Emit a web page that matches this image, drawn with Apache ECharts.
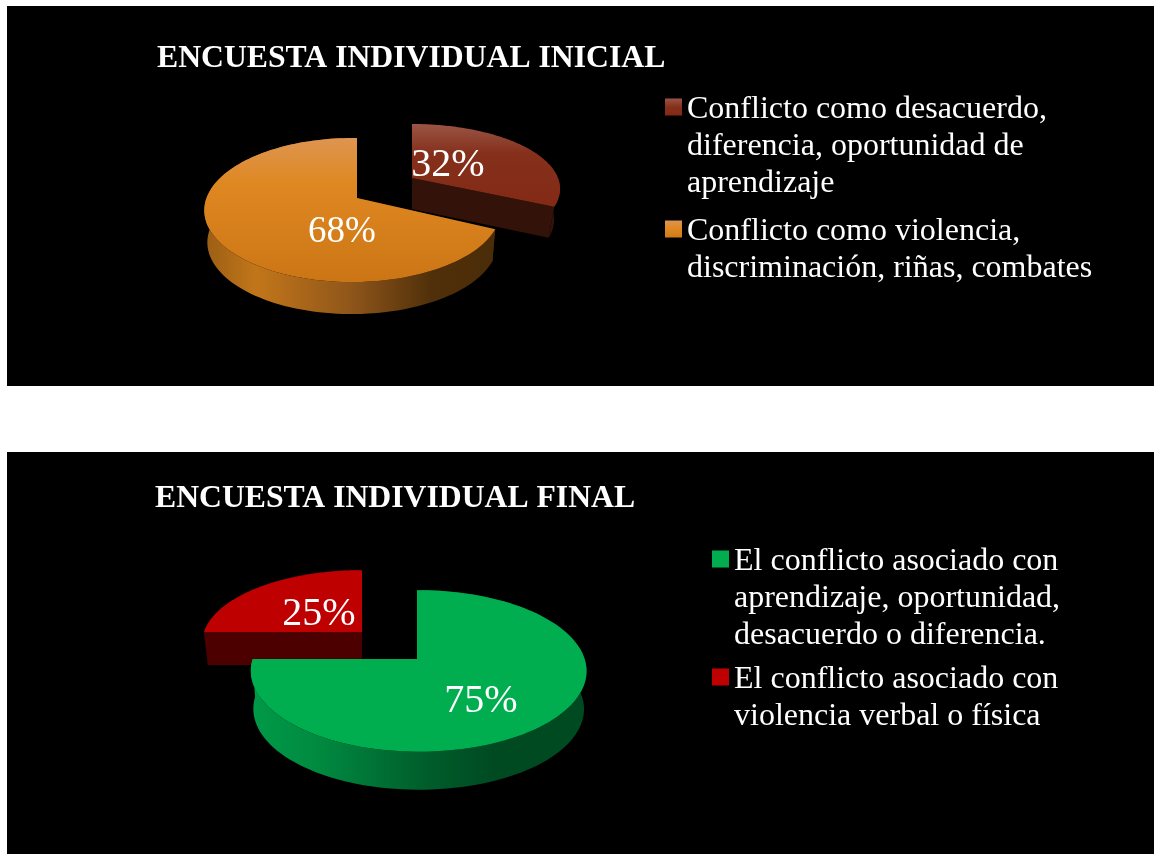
<!DOCTYPE html>
<html><head><meta charset="utf-8">
<style>html,body{margin:0;padding:0;background:#fff}#c{width:1154px;height:854px}</style>
<script src="https://cdn.jsdelivr.net/npm/echarts@6/dist/echarts.min.js"></script>
</head><body><div id="c"></div>
<script>
// Data
const titleInitial = 'ENCUESTA INDIVIDUAL INICIAL';
const titleFinal = 'ENCUESTA INDIVIDUAL FINAL';
const initialNames = ['Conflicto como desacuerdo,\ndiferencia, oportunidad de\naprendizaje', 'Conflicto como violencia,\ndiscriminación, riñas, combates'];
const initialValues = [32, 68];
const finalNames = ['El conflicto asociado con\naprendizaje, oportunidad,\ndesacuerdo o diferencia.', 'El conflicto asociado con\nviolencia verbal o física'];
const finalValues = [75, 25];

// Layout and styles
const grad = (x2, y2, stops) => ({type:'linear', x:0, y:0, x2, y2, colorStops: stops.map(s => ({offset:s[0], color:s[1]}))});
const serif = '"Liberation Serif","Times New Roman",serif';
const slices = [
  { name:initialNames[0], values:initialValues, idx:0, apex:[412,178], A:146, B:63, k:.1667, m:0, depth:31, taper:.96,
    face:grad(0,1,[[0,'#9a5545'],[.35,'#85301c'],[1,'#832a15']]), wall:'#33120a', radial:'#33120a', label:[448,165], size:40 },
  { name:initialNames[1], values:initialValues, idx:1, apex:[357,198], A:146, B:70, k:.1667, m:-.03, depth:32, taper:.98,
    face:grad(0,1,[[0,'#dd9550'],[.32,'#df8822'],[1,'#cb7515']]),
    wall:grad(1,0,[[0,'#9a5e14'],[.18,'#c2761a'],[.5,'#90561a'],[.78,'#50300a'],[1,'#4a2c08']]), radial:'#4a2c08', label:[342,232], size:37 },
  { name:finalNames[1], values:finalValues, idx:1, apex:[362,632], A:158, B:71, k:.148, m:0, depth:33, taper:.975,
    face:'#bf0000', wall:'#4c0000', radial:'#4c0000', label:[319,614], size:40 },
  { name:finalNames[0], values:finalValues, idx:0, apex:[417,659], A:166, B:79, k:.148, m:.01, depth:38, taper:.985,
    face:'#00ae50',
    wall:grad(1,0,[[0,'#009a48'],[.2,'#008a40'],[.5,'#00602c'],[.72,'#004a22'],[1,'#004a22']]), radial:'#004a22', label:[481,701], size:40 }
];

function sliceRender(s) {
  return function (params, api) {
    const value = api.value(0);
    const total = s.values.reduce((a, b) => a + b, 0);
    const before = s.values.slice(0, s.idx).reduce((a, b) => a + b, 0);
    const t0 = before / total * 2 * Math.PI;
    const t1 = t0 + value / total * 2 * Math.PI;
    const project = t => {
      const u = Math.sin(t), v = -Math.cos(t), den = 1 - s.k * v - s.m * u;
      return [s.apex[0] + s.A * u / den, s.apex[1] + s.B * v / den];
    };
    const arc = [];
    for (let i = 0; i <= 120; i++) arc.push(project(t0 + (t1 - t0) * i / 120));
    const down = p => [s.apex[0] + (p[0] - s.apex[0]) * s.taper, p[1] + s.depth];
    const poly = (points, fill, z2) => ({type:'polygon', z2, shape:{points}, style:{fill}});
    const first = arc[0], last = arc[arc.length - 1];
    return {type:'group', children:[
      poly([s.apex, first, down(first), down(s.apex)], s.radial, 1),
      poly([s.apex, last, down(last), down(s.apex)], s.radial, 1),
      poly(arc.concat(arc.map(down).reverse()), s.wall, 2),
      poly([s.apex].concat(arc), s.face, 3),
      {type:'text', z2:4, style:{text:value + '%', x:s.label[0], y:s.label[1], fill:'#fff', align:'center', verticalAlign:'middle', font:s.size + 'px ' + serif}}
    ]};
  };
}

const legendSize = 32, lineH = 37, textDrop = 6;
const legendItems = [
  { name:initialNames[0], color:grad(0,1,[[0,'#9a5545'],[.5,'#85301c'],[1,'#832a15']]), lines:3, left:665, firstLine:110 },
  { name:initialNames[1], color:grad(0,1,[[0,'#dd9550'],[.5,'#df8822'],[1,'#d07a18']]), lines:2, left:665, firstLine:232 },
  { name:finalNames[0], color:'#00ae50', lines:3, left:712, firstLine:562 },
  { name:finalNames[1], color:'#bf0000', lines:2, left:712, firstLine:680 }
];

const option = {
  animation:false,
  backgroundColor:'#fff',
  title:[
    {text:titleInitial, left:157, top:43, padding:0, textStyle:{fontFamily:serif, fontSize:31.7, fontWeight:'bold', color:'#fff'}},
    {text:titleFinal, left:155, top:483, padding:0, textStyle:{fontFamily:serif, fontSize:31.7, fontWeight:'bold', color:'#fff'}}
  ],
  graphic:[
    {type:'rect', z:-10, silent:true, shape:{x:7,y:6,width:1147,height:380}, style:{fill:'#000'}},
    {type:'rect', z:-10, silent:true, shape:{x:7,y:452,width:1147,height:402}, style:{fill:'#000'}}
  ],
  legend: legendItems.map(l => ({
    left:l.left, top:l.firstLine - lineH / 2 - textDrop - (l.lines - 1) * lineH, padding:0, orient:'vertical', selectedMode:false,
    itemWidth:17, itemHeight:17, icon:'rect',
    data:[{name:l.name, icon:'rect', itemStyle:{color:l.color}}],
    // leading spacer lines keep the swatch level with the first text line
    formatter: name => '{g|\u00a0}\n'.repeat(l.lines - 1) + name.split('\n').map(t => '{t|' + t + '}').join('\n'),
    textStyle:{color:'#fff', fontFamily:serif, fontSize:legendSize, lineHeight:lineH,
      rich:{
        t:{color:'#fff', fontFamily:serif, fontSize:legendSize, lineHeight:lineH},
        g:{color:'#000', fontFamily:serif, fontSize:legendSize, lineHeight:lineH + textDrop / (l.lines - 1)}
      }},
    itemGap:0
  })),
  series: slices.map(s => ({
    type:'custom', name:s.name, coordinateSystem:'none', silent:true,
    itemStyle:{color:s.face},
    data:[[s.values[s.idx]]],
    renderItem:sliceRender(s)
  }))
};
echarts.init(document.getElementById('c')).setOption(option);
</script></body></html>
